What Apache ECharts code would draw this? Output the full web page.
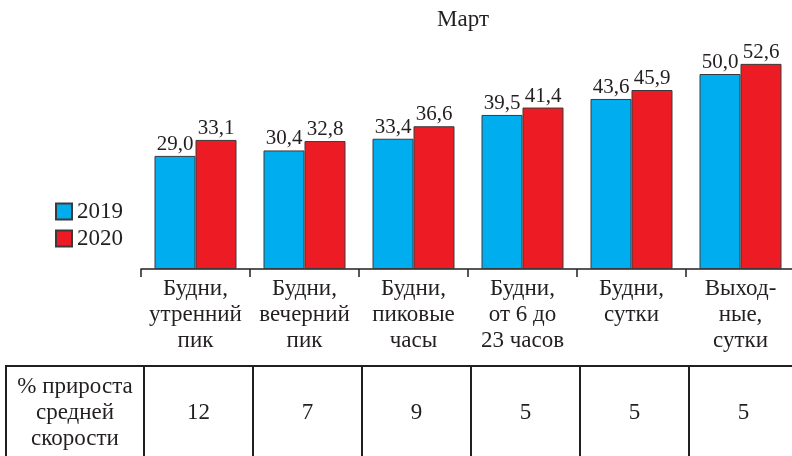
<!DOCTYPE html>
<html>
<head>
<meta charset="utf-8">
<script src="https://cdn.jsdelivr.net/npm/echarts@6/dist/echarts.min.js"></script>
<style>html,body{margin:0;padding:0;background:#fff;overflow:hidden}#c{width:800px;height:462px}</style>
</head>
<body>
<div id="c"></div>
<script>
var categories = ['Будни,\nутренний\nпик', 'Будни,\nвечерний\nпик', 'Будни,\nпиковые\nчасы', 'Будни,\nот 6 до\n23 часов', 'Будни,\nсутки', 'Выход-\nные,\nсутки'];
var values2019 = [29.0, 30.4, 33.4, 39.5, 43.6, 50.0];
var values2020 = [33.1, 32.8, 36.6, 41.4, 45.9, 52.6];
var growth = [12, 7, 9, 5, 5, 5];
var tableHeader = '% прироста\nсредней\nскорости';
var titleText = 'Март';

var FONT = "'Liberation Serif', 'DejaVu Serif', serif";
var TXT = '#231F20';
var fmt = function (p) { return p.value.toFixed(1).replace('.', ','); };

var chart = echarts.init(document.getElementById('c'), null, {renderer: 'canvas'});
chart.setOption({
  animation: false,
  title: {
    text: titleText, left: 458, top: 3, textAlign: 'center',
    textStyle: {fontFamily: FONT, fontSize: 23, fontWeight: 'normal', color: TXT}
  },
  legend: {
    orient: 'vertical', left: 50, top: 193, itemWidth: 16, itemHeight: 16, itemGap: 0,
    icon: 'rect',
    textStyle: {fontFamily: FONT, fontSize: 23, color: TXT, lineHeight: 27},
    data: ['2019', '2020']
  },
  grid: [
    {left: 141, width: 654, top: 35, height: 234},
    {left: 144, width: 654, top: 366, height: 94}
  ],
  xAxis: [
    {
      gridIndex: 0, type: 'category', data: categories,
      axisLine: {lineStyle: {color: TXT, width: 1.5}},
      axisTick: {show: true, length: 8, lineStyle: {color: TXT, width: 1.5}},
      axisLabel: {fontFamily: FONT, fontSize: 23, color: TXT, lineHeight: 26, margin: 7, interval: 0}
    },
    {
      gridIndex: 1, type: 'category', data: categories, position: 'top',
      axisLine: {lineStyle: {color: TXT, width: 2}},
      axisTick: {show: false}, axisLabel: {show: false},
      splitLine: {show: true, lineStyle: {color: TXT, width: 2}}
    }
  ],
  yAxis: [
    {gridIndex: 0, type: 'value', min: 0, max: 60, show: false},
    {
      gridIndex: 1, type: 'category', data: [tableHeader],
      axisLine: {show: false}, axisTick: {show: false}, splitLine: {show: false},
      axisLabel: {fontFamily: FONT, fontSize: 23, color: TXT, lineHeight: 26, align: 'center', margin: 69}
    }
  ],
  graphic: [
    {type: 'line', shape: {x1: 6, y1: 366, x2: 145, y2: 366}, style: {stroke: TXT, lineWidth: 2}},
    {type: 'line', shape: {x1: 6, y1: 365, x2: 6, y2: 462}, style: {stroke: TXT, lineWidth: 2}}
  ],
  series: [
    {
      name: '2019', type: 'bar', xAxisIndex: 0, yAxisIndex: 0, data: values2019,
      barWidth: 41, barGap: '0%',
      itemStyle: {color: '#00AEEF', borderColor: '#3a3a3a', borderWidth: 1},
      label: {show: true, position: 'top', distance: 1, formatter: fmt, fontFamily: FONT, fontSize: 21, color: TXT}
    },
    {
      name: '2020', type: 'bar', xAxisIndex: 0, yAxisIndex: 0, data: values2020,
      barWidth: 41, barGap: '0%',
      itemStyle: {color: '#ED1C24', borderColor: '#3a3a3a', borderWidth: 1},
      label: {show: true, position: 'top', distance: 1, formatter: fmt, fontFamily: FONT, fontSize: 21, color: TXT}
    },
    {
      name: 'growth', type: 'scatter', xAxisIndex: 1, yAxisIndex: 1, symbolSize: 0,
      itemStyle: {opacity: 1},
      data: growth.map(function (g, i) { return [categories[i], tableHeader, g]; }),
      label: {show: true, position: 'inside', formatter: function (p) { return String(p.value[2]); },
        fontFamily: FONT, fontSize: 23, color: TXT, opacity: 1}
    }
  ]
});
</script>
</body>
</html>
